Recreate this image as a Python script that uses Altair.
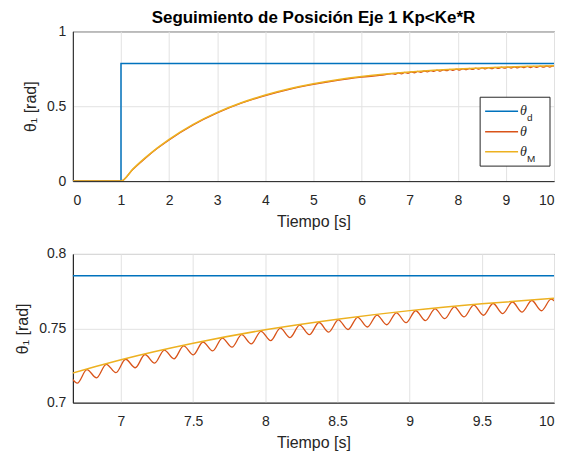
import altair as alt
import pandas as pd

# ---- data ----
t_ref = [0.0, 1.0, 10.0]
theta_d = [0.0, 0.7854, 0.7854]

t_M = [0.0, 1.0, 1.25, 1.5, 1.75, 2.0, 2.5, 3.0, 3.5, 4.0, 4.5, 5.0, 5.5,
       6.0, 6.5, 7.0, 7.5, 8.0, 8.5, 9.0, 9.5, 10.0]
theta_M = [0.0, 0.0, 0.0815, 0.1547, 0.2201, 0.2788, 0.3786, 0.4587, 0.5231,
           0.5747, 0.6162, 0.6495, 0.6763, 0.6978, 0.7150, 0.7289, 0.7400,
           0.7490, 0.7561, 0.7619, 0.7665, 0.7702]

# theta: smooth rise, then ripple (peaks / troughs)
t_rise = [0.0, 1.0, 1.25, 1.5, 1.75, 2.0, 2.5, 3.0, 3.5, 4.0, 4.5, 5.0, 5.5,
          6.0, 6.5]
theta_rise = [0.0, 0.0, 0.079, 0.151, 0.217, 0.275, 0.375, 0.455, 0.520,
              0.571, 0.613, 0.646, 0.673, 0.694, 0.711]
t_peaks = [6.630, 6.764, 6.898, 7.032, 7.166, 7.300, 7.434, 7.568, 7.702,
           7.836, 7.970, 8.104, 8.238, 8.372, 8.506, 8.640, 8.774, 8.908,
           9.042, 9.176, 9.310, 9.444, 9.578, 9.712, 9.846, 9.980]
theta_peaks = [0.7184, 0.7222, 0.7258, 0.7292, 0.7324, 0.7354, 0.7382, 0.7408,
               0.7434, 0.7457, 0.7480, 0.7501, 0.7521, 0.7539, 0.7557, 0.7574,
               0.7589, 0.7604, 0.7618, 0.7631, 0.7644, 0.7656, 0.7667, 0.7677,
               0.7687, 0.7696]
t_troughs = [6.697, 6.831, 6.965, 7.099, 7.233, 7.367, 7.501, 7.635, 7.769,
             7.903, 8.037, 8.171, 8.305, 8.439, 8.573, 8.707, 8.841, 8.975,
             9.109, 9.243, 9.377, 9.511, 9.645, 9.779, 9.913, 10.047]
theta_troughs = [0.7131, 0.7167, 0.7202, 0.7235, 0.7266, 0.7295, 0.7322,
                 0.7348, 0.7373, 0.7396, 0.7417, 0.7438, 0.7457, 0.7475,
                 0.7492, 0.7509, 0.7524, 0.7538, 0.7552, 0.7565, 0.7577,
                 0.7588, 0.7599, 0.7609, 0.7618, 0.7628]

series_labels = ["θ", "θ", "θ"]
series_subs = ["d", "", "M"]
colors = ["#0072BD", "#D95319", "#EDB120"]

title_text = "Seguimiento de Posición Eje 1  Kp<Ke*R"
x_title = "Tiempo [s]"
y_title = "θ₁ [rad]"

top_x_ticks = [0, 1, 2, 3, 4, 5, 6, 7, 8, 9, 10]
top_y_ticks = [0, 0.5, 1]
bot_x_ticks = [7, 7.5, 8, 8.5, 9, 9.5, 10]
bot_y_ticks = [0.7, 0.75, 0.8]

# ---- tables ----
df_d = pd.DataFrame({"t": t_ref, "v": theta_d})
df_M = pd.DataFrame({"t": t_M, "v": theta_M})
ripple = sorted(zip(t_peaks + t_troughs, theta_peaks + theta_troughs))
df_th = pd.DataFrame({"t": t_rise + [p[0] for p in ripple],
                      "v": theta_rise + [p[1] for p in ripple]})

FONT = "Liberation Sans"
TXT = "#262626"


def panel(xdom, ydom, xticks, yticks, yfmt, w, h, legend=False, title=None):
    x = alt.X("t:Q", scale=alt.Scale(domain=xdom, nice=False, zero=False),
              axis=alt.Axis(values=xticks, format=".1~f", title=x_title,
                            ticks=False, tickSize=0, labelPadding=12,
                            titlePadding=6))
    y = alt.Y("v:Q", scale=alt.Scale(domain=ydom, nice=False, zero=False),
              axis=alt.Axis(values=yticks, format=yfmt, title=y_title,
                            ticks=False, tickSize=0, labelPadding=7,
                            titlePadding=8))
    l_d = alt.Chart(df_d).mark_line(interpolate="step-after", color=colors[0],
                                    strokeWidth=1.5, clip=True).encode(x=x, y=y)
    l_th = alt.Chart(df_th).mark_line(interpolate="monotone", color=colors[1],
                                      strokeWidth=1.3, clip=True).encode(x="t:Q", y="v:Q")
    l_M = alt.Chart(df_M).mark_line(interpolate="monotone", color=colors[2],
                                    strokeWidth=1.5, clip=True).encode(x="t:Q", y="v:Q")
    layers = [l_d, l_th, l_M]
    if legend:
        box = alt.Chart(df_d.head(1)).mark_rect(
            fill="white", stroke=TXT, strokeWidth=1).encode(
            x=alt.value(408), x2=alt.value(478), y=alt.value(66), y2=alt.value(135))
        layers.append(box)
        rows = [80, 100.5, 120.5]
        for i in range(3):
            layers.append(alt.Chart(df_d.head(1)).mark_rule(
                color=colors[i], strokeWidth=1.5).encode(
                x=alt.value(413), x2=alt.value(446), y=alt.value(rows[i])))
            layers.append(alt.Chart(df_d.head(1)).mark_text(
                text=series_labels[i], font="Liberation Serif", fontStyle="italic",
                fontSize=14, color=TXT, align="left", baseline="middle").encode(
                x=alt.value(448), y=alt.value(rows[i])))
            if series_subs[i]:
                layers.append(alt.Chart(df_d.head(1)).mark_text(
                    text=series_subs[i], font=FONT, fontSize=10, color=TXT,
                    align="left", baseline="middle").encode(
                    x=alt.value(455), y=alt.value(rows[i] + 7)))
    ch = alt.layer(*layers).properties(width=w, height=h)
    if title:
        ch = ch.properties(title=alt.TitleParams(title, fontSize=17, fontWeight="bold",
                                                 font=FONT, color="black", offset=-3))
    return ch


top = panel([0, 10], [0, 1], top_x_ticks, top_y_ticks, ".1~f", 482, 150,
            legend=True, title=title_text)
bottom = panel([6.6667, 10], [0.7, 0.8], bot_x_ticks, bot_y_ticks, ".2~f", 482, 149)

chart = alt.vconcat(top, bottom, spacing=16).properties(
    background="white",
    padding={"left": 6, "top": 0, "right": 0, "bottom": 0}
).configure_view(
    stroke=TXT, strokeWidth=1
).configure_axis(
    labelFont=FONT, titleFont=FONT, labelFontSize=14, titleFontSize=16,
    labelColor=TXT, titleColor=TXT, domainColor=TXT, domainWidth=1,
    gridColor="#E2E2E2", gridWidth=1, titleFontWeight="normal"
)

chart.save("out.html", embed_options={"renderer": "svg", "actions": False})
